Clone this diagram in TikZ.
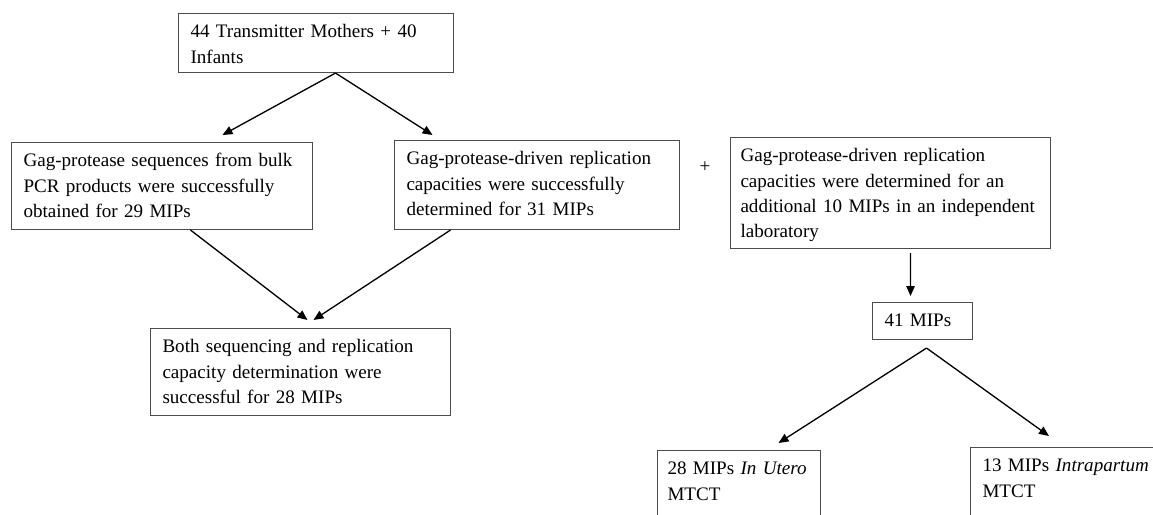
\documentclass[tikz,border=0pt]{standalone}
\usepackage{fontspec}
\setmainfont{Liberation Serif}
\usetikzlibrary{arrows.meta}
\usetikzlibrary{calc}

\begin{document}
\begin{tikzpicture}[x=0.02cm, y=-0.02cm,
	box/.style={draw=black!70, line width=0.6pt, anchor=north west, align=left,
		inner xsep=0.24cm, inner ysep=0.22cm, text height=0.26cm,
		font=\fontsize{10.85}{14.5}\selectfont},
	arr/.style={-{Triangle[length=0.2cm,width=0.17cm]}, line width=0.75pt}]

	\useasboundingbox (0,0) rectangle (1153,514);
	\clip (0,0) rectangle (1153,514);

	% boxes
	\node[box, text width=5.02cm, text depth=0.48cm] (mothers) at (178,13)
		{44 Transmitter Mothers + 40\\Infants};
	\node[box, text width=5.54cm, text depth=1.04cm] (seq) at (11,142)
		{Gag-protease sequences from bulk\\PCR products were successfully\\obtained for 29 MIPs};
	\node[box, text width=5.22cm, text depth=1.08cm] (rc) at (394,140)
		{Gag-protease-driven replication\\capacities were successfully\\determined for 31 MIPs};
	\node[box, inner xsep=0.2cm, text width=6.0cm, text depth=1.52cm] (extra) at (730,137)
		{Gag-protease-driven replication\\capacities were determined for an\\additional 10 MIPs in an independent\\laboratory};
	\node[box, text width=5.52cm, text depth=1.04cm] (both) at (150,328)
		{Both sequencing and replication\\capacity determination were\\successful for 28 MIPs};
	\node[box, text width=1.52cm, text depth=0.04cm] (mips) at (872,302) {41 MIPs};
	\node[box, inner xsep=0.2cm, text width=2.86cm, text depth=1.3cm] (utero) at (657,450)
		{28 MIPs \textit{In Utero}\\MTCT};
	\node[box, text width=4.12cm, text depth=1.3cm] (intra) at (970,447)
		{13 MIPs \textit{Intrapartum}\\MTCT};

	\node[font=\fontsize{10.85}{14.5}\selectfont] (plus) at (705,167) {+};

	% arrows
	\draw[arr] ([xshift=0.39cm]mothers.south) -- ([xshift=1.21cm, yshift=0.14cm]seq.north);
	\draw[arr] ([xshift=0.39cm]mothers.south) -- ([xshift=-2.09cm, yshift=0.1cm]rc.north);
	\draw[arr] ([xshift=0.57cm]seq.south) -- ([xshift=0.14cm, yshift=0.16cm]both.north);
	\draw[arr] ([xshift=-1.73cm]rc.south) -- ([xshift=0.26cm, yshift=0.16cm]both.north);
	\draw[arr] ([xshift=0.4cm, yshift=-0.08cm]extra.south) -- ([xshift=-0.24cm, yshift=0.12cm]mips.north);
	\draw[arr] ([xshift=0.08cm, yshift=-0.16cm]mips.south) -- ([xshift=0.79cm, yshift=0.14cm]utero.north);
	\draw[arr] ([xshift=0.08cm, yshift=-0.16cm]mips.south) -- ([xshift=1.58cm, yshift=0.22cm]intra.north west);

\end{tikzpicture}
\end{document}
